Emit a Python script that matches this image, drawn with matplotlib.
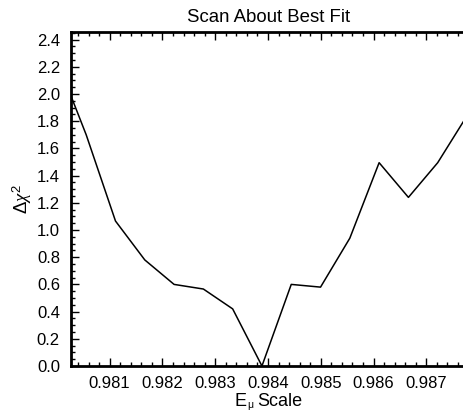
import matplotlib
matplotlib.use("Agg")
import matplotlib.pyplot as plt
from matplotlib.ticker import MultipleLocator

# scan points (E_mu scale, delta chi^2)
e_scale = [0.98000, 0.980555, 0.98111, 0.981665, 0.98222, 0.982775, 0.98333,
           0.983885, 0.98444, 0.984995, 0.98555, 0.986105, 0.98666, 0.987215, 0.98777]
dchi2 = [2.25, 1.70, 1.066, 0.78, 0.60, 0.566, 0.42,
         0.0, 0.60, 0.58, 0.94, 1.495, 1.24, 1.495, 1.84]

plt.rcParams['font.family'] = ['Liberation Sans', 'DejaVu Sans']
plt.rcParams['mathtext.fontset'] = 'custom'
plt.rcParams['mathtext.rm'] = 'Liberation Sans'
plt.rcParams['mathtext.it'] = 'Liberation Serif:italic'

W, H = 464, 412
fig = plt.figure(figsize=(4.64, 4.12), dpi=100)
ax = fig.add_axes([71/W, 1-366/H, (467-71)/W, (366-32)/H])

ax.plot(e_scale, dchi2, color='black', lw=1.1)

ax.set_xlim(0.980267, 0.98777)
ax.set_ylim(0, 2.456)

ax.xaxis.set_major_locator(MultipleLocator(0.001))
ax.xaxis.set_minor_locator(MultipleLocator(0.0002))
ax.yaxis.set_major_locator(MultipleLocator(0.2))
ax.yaxis.set_minor_locator(MultipleLocator(0.05))
ax.xaxis.set_major_formatter(plt.FuncFormatter(lambda v, p: "%.3f" % v))
ax.yaxis.set_major_formatter(plt.FuncFormatter(lambda v, p: "%.1f" % v))

ax.tick_params(which='both', direction='in', top=True, right=False,
               labelsize=12, width=1)
ax.tick_params(axis='y', pad=8)
ax.tick_params(axis='x', pad=7)
ax.tick_params(which='major', length=6)
ax.tick_params(which='minor', length=3)

for s in ['left', 'bottom', 'top']:
    ax.spines[s].set_linewidth(2)
ax.spines['right'].set_visible(False)

ax.set_title("Scan About Best Fit", fontsize=13.4, pad=7)
ax.set_ylabel(r"$\Delta\chi^2$", fontsize=13.4, labelpad=2)

# x label "E_mu Scale" built from pieces so the subscript sits low
fig.text(235/W, 1-406/H, "E", fontsize=13, va='baseline', ha='left')
fig.text(247.5/W, 1-408.5/H, "\u03bc", fontsize=7.5, va='baseline', ha='left')
fig.text(257/W, 1-406/H, "Scale", fontsize=13, va='baseline', ha='left')

fig.savefig("out.png", dpi=100)
